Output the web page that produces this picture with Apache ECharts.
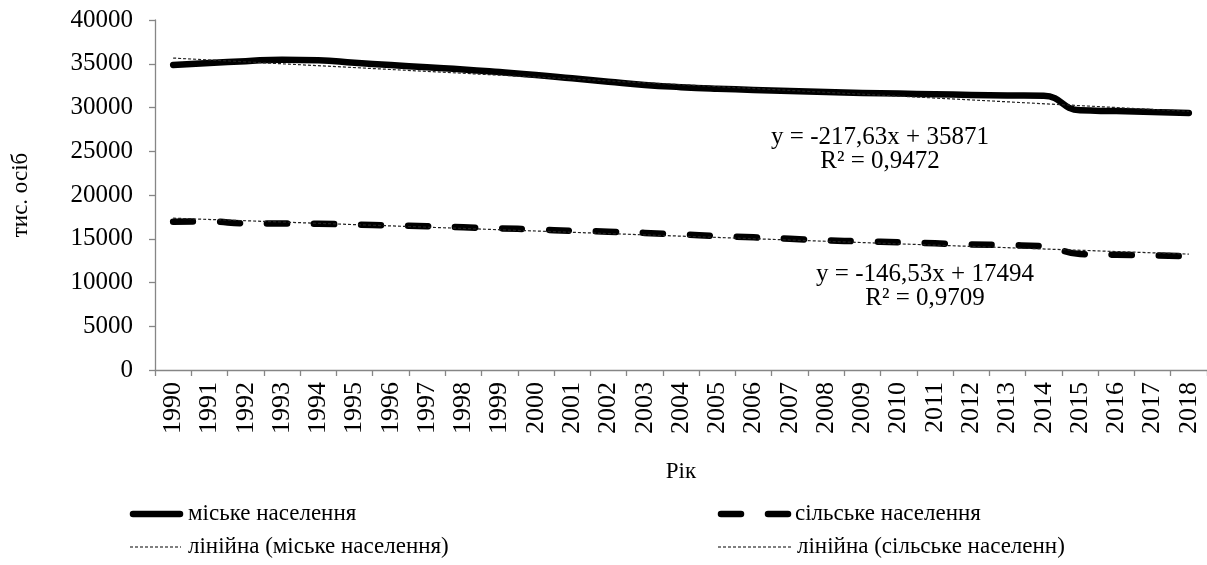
<!DOCTYPE html>
<html>
<head>
<meta charset="utf-8">
<script src="https://cdn.jsdelivr.net/npm/echarts@6/dist/echarts.min.js"></script>
<style>html,body{margin:0;padding:0;background:#fff;}#c{width:1207px;height:565px;}</style>
</head>
<body>
<div id="c"></div>
<script>
const years = ['1990','1991','1992','1993','1994','1995','1996','1997','1998','1999','2000','2001','2002','2003','2004','2005','2006','2007','2008','2009','2010','2011','2012','2013','2014','2015','2016','2017','2018'];
const urban = [34870,35085,35297,35471,35400,35119,34850,34588,34345,34048,33725,33338,32946,32574,32328,32146,32010,31877,31778,31668,31587,31524,31441,31379,31336,29673,29586,29482,29371];
const rural = [16945,16968,16759,16744,16714,16610,16529,16429,16309,16192,16061,15911,15810,15669,15495,15321,15159,14989,14818,14695,14592,14474,14346,14267,14154,13258,13174,13102,13012];
const trendUrbanEnds = [35650, 29560];
const trendRuralEnds = [17350, 13245];
const yTicks = {min: 0, max: 40000, interval: 5000};
const names = ['міське населення','сільське населення','лінійна (міське населення)','лінійна (сільське населенн)'];
const eqUrban = ['y = -217,63x + 35871', 'R² = 0,9472'];
const eqRural = ['y = -146,53x + 17494', 'R² = 0,9709'];

const FONT = 'Liberation Serif';
const axisGray = '#868686';
const chart = echarts.init(document.getElementById('c'), null, {renderer: 'canvas'});

function txt(t, x, y, size, align) {
  return {type: 'text', silent: true, style: {text: t, x: x, y: y, textAlign: align || 'center', textVerticalAlign: 'middle', font: size + 'px "' + FONT + '"', fill: '#000'}};
}
function seg(x1, x2, y, w, dash) {
  return {type: 'line', silent: true, shape: {x1: x1, y1: y, x2: x2, y2: y},
    style: {stroke: '#000', lineWidth: w, lineCap: dash ? 'butt' : 'round', lineDash: dash || null}};
}

chart.setOption({
  animation: false,
  backgroundColor: '#fff',
  grid: {left: 155, right: 0, top: 20, bottom: 195, containLabel: false},
  xAxis: {
    type: 'category', data: years, boundaryGap: true,
    name: 'Рік', nameLocation: 'middle', nameGap: 90,
    nameTextStyle: {fontFamily: FONT, fontSize: 23, color: '#000'},
    axisLine: {lineStyle: {color: axisGray, width: 1.3}},
    axisTick: {show: true, length: 6, alignWithLabel: false, lineStyle: {color: axisGray, width: 1.3}},
    axisLabel: {rotate: 90, margin: 12, interval: 0, fontFamily: FONT, fontSize: 26, color: '#000'}
  },
  yAxis: {
    type: 'value', min: yTicks.min, max: yTicks.max, interval: yTicks.interval,
    name: 'тис. осіб', nameLocation: 'middle', nameGap: 123, nameRotate: 90,
    nameTextStyle: {fontFamily: FONT, fontSize: 23, color: '#000'},
    splitLine: {show: false},
    axisLine: {show: true, lineStyle: {color: axisGray, width: 1.3}},
    axisTick: {show: true, length: 6, lineStyle: {color: axisGray, width: 1.3}},
    axisLabel: {margin: 22, fontFamily: FONT, fontSize: 25, color: '#000', formatter: function (v) { return String(v); }}
  },
  graphic: [
    txt(eqUrban[0], 880, 137, 25), txt(eqUrban[1], 880, 161, 25),
    txt(eqRural[0], 925, 274, 25), txt(eqRural[1], 925, 298, 25),
    seg(133, 180, 514, 6.5), txt(names[0], 188, 514, 23, 'left'),
    seg(721, 741, 514, 6.5), seg(768, 788, 514, 6.5), txt(names[1], 795, 514, 23, 'left'),
    seg(130, 181, 547, 1.2, [3, 2]), txt(names[2], 188, 547, 23, 'left'),
    seg(718, 791, 547, 1.2, [3, 2]), txt(names[3], 797, 547, 23, 'left')
  ],
  series: [
    {name: names[0], type: 'line', data: urban, smooth: true, symbol: 'none', z: 3,
     lineStyle: {color: '#000', width: 6.5, cap: 'round', join: 'round'}},
    {name: names[1], type: 'line', data: rural, smooth: true, symbol: 'none', z: 3,
     lineStyle: {color: '#000', width: 6.5, type: [20, 27], cap: 'round', join: 'round'}},
    {name: names[2], type: 'line', data: [[years[0], trendUrbanEnds[0]], [years[years.length-1], trendUrbanEnds[1]]], symbol: 'none', z: 4,
     lineStyle: {color: '#222', width: 1.2, type: [3, 2]}},
    {name: names[3], type: 'line', data: [[years[0], trendRuralEnds[0]], [years[years.length-1], trendRuralEnds[1]]], symbol: 'none', z: 4,
     lineStyle: {color: '#222', width: 1.2, type: [3, 2]}}
  ]
});
</script>
</body>
</html>
